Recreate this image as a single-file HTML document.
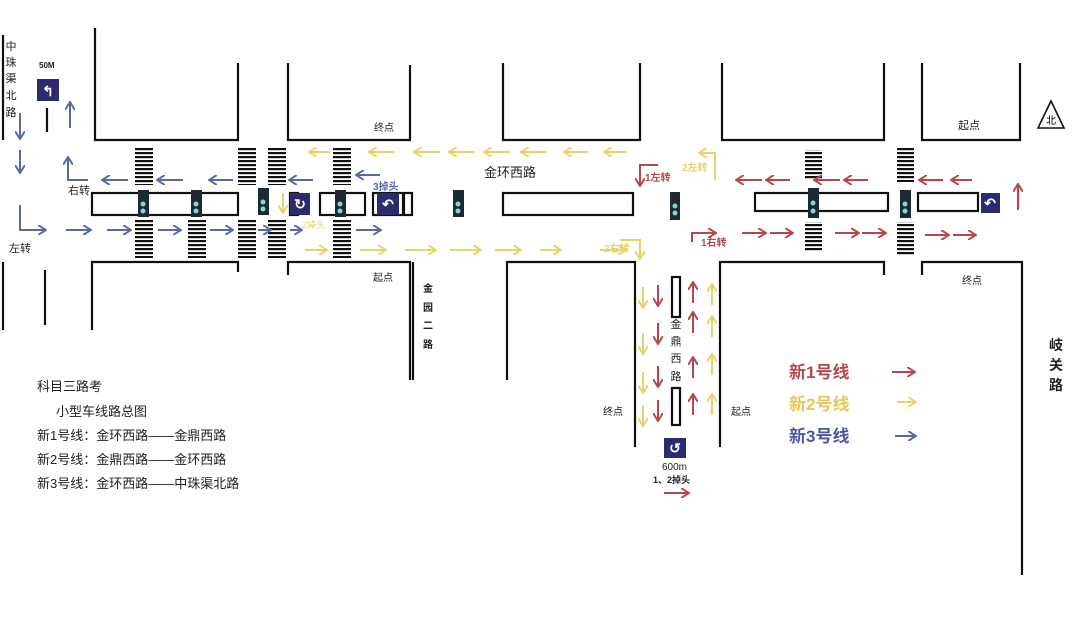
<!DOCTYPE html>
<html><head><meta charset="utf-8"><style>
html,body{margin:0;padding:0;background:#fff;}
svg{display:block;font-family:"Liberation Sans","Noto Sans CJK SC",sans-serif;}
</style></head><body>
<svg width="1080" height="624" viewBox="0 0 1080 624" xmlns="http://www.w3.org/2000/svg">
<defs>
<marker id="r" markerWidth="9" markerHeight="10" refX="7" refY="5" orient="auto" markerUnits="userSpaceOnUse"><path d="M0,0 L8,5 L0,10" fill="none" stroke="#b4474c" stroke-width="2"/></marker>
<marker id="y" markerWidth="9" markerHeight="10" refX="7" refY="5" orient="auto" markerUnits="userSpaceOnUse"><path d="M0,0 L8,5 L0,10" fill="none" stroke="#e6d36c" stroke-width="2"/></marker>
<marker id="b" markerWidth="9" markerHeight="10" refX="7" refY="5" orient="auto" markerUnits="userSpaceOnUse"><path d="M0,0 L8,5 L0,10" fill="none" stroke="#5b68a6" stroke-width="2"/></marker>
<pattern id="cw" width="20" height="4" patternUnits="userSpaceOnUse"><rect width="20" height="2.2" fill="#111"/></pattern>
</defs>
<g fill="none" stroke="#111" stroke-width="2.2">
<path d="M95,28 V140 H238 V63"/>
<path d="M288,63 V140 H410 V65"/>
<path d="M503,63 V140 H640 V63"/>
<path d="M722,63 V140 H884 V63"/>
<path d="M922,63 V140 H1020 V63"/>
<path d="M92,330 V262 H238 V272"/>
<path d="M288,275 V262 H410 V380"/>
<path d="M413,262 V380"/>
<path d="M507,380 V262 H635 V447"/>
<path d="M720,447 V262 H884 V275"/>
<path d="M922,275 V262 H1022 V575"/>
<path d="M3,35 V140"/><path d="M47,108 V132"/>
<path d="M3,262 V330"/><path d="M45,270 V325"/>
<rect x="92" y="193" width="146" height="22"/>
<rect x="320" y="193" width="45" height="22"/>
<rect x="373" y="193" width="30" height="22"/>
<rect x="404" y="193" width="8" height="22"/>
<rect x="290" y="193" width="8" height="22"/>
<rect x="503" y="193" width="130" height="22"/>
<rect x="755" y="193" width="133" height="18"/>
<rect x="918" y="193" width="60" height="18"/>
<rect x="672" y="277" width="8" height="40"/>
<rect x="672" y="388" width="8" height="37"/>
</g>
<g fill="url(#cw)">
<rect x="135" y="147" width="18" height="38"/><rect x="135" y="220" width="18" height="38"/>
<rect x="188" y="220" width="18" height="38"/>
<rect x="238" y="147" width="18" height="38"/><rect x="238" y="220" width="18" height="38"/>
<rect x="268" y="147" width="18" height="38"/><rect x="268" y="220" width="18" height="38"/>
<rect x="333" y="147" width="18" height="38"/><rect x="333" y="220" width="18" height="38"/>
<rect x="805" y="150" width="17" height="30"/><rect x="805" y="222" width="17" height="30"/>
<rect x="897" y="148" width="17" height="34"/><rect x="897" y="222" width="17" height="34"/>
</g>
<g>
<rect x="138" y="190" width="11" height="27" fill="#1c2a33"/><rect x="191" y="190" width="11" height="27" fill="#1c2a33"/>
<rect x="258" y="188" width="11" height="27" fill="#1c2a33"/><rect x="335" y="190" width="11" height="27" fill="#1c2a33"/>
<rect x="453" y="190" width="11" height="27" fill="#1c2a33"/><rect x="670" y="192" width="10" height="28" fill="#1c2a33"/>
<rect x="808" y="188" width="11" height="30" fill="#1c2a33"/><rect x="900" y="190" width="11" height="28" fill="#1c2a33"/>
</g>
<g fill="#8fd0d0">
<circle cx="143" cy="204" r="2.5"/><circle cx="143" cy="211" r="2.5"/><circle cx="196" cy="204" r="2.5"/><circle cx="196" cy="211" r="2.5"/>
<circle cx="263" cy="202" r="2.5"/><circle cx="263" cy="209" r="2.5"/><circle cx="340" cy="204" r="2.5"/><circle cx="340" cy="211" r="2.5"/>
<circle cx="458" cy="204" r="2.5"/><circle cx="458" cy="211" r="2.5"/><circle cx="675" cy="206" r="2.5"/><circle cx="675" cy="213" r="2.5"/>
<circle cx="813" cy="203" r="2.5"/><circle cx="813" cy="211" r="2.5"/><circle cx="905" cy="204" r="2.5"/><circle cx="905" cy="211" r="2.5"/>
</g>
<g fill="#2c2b6e">
<rect x="37" y="79" width="22" height="22"/><rect x="290" y="193" width="20" height="22"/><rect x="377" y="193" width="22" height="22"/>
<rect x="981" y="193" width="19" height="20"/><rect x="664" y="438" width="22" height="20"/>
</g>
<g fill="#fff" font-size="14" font-weight="bold" text-anchor="middle">
<text x="48" y="96">↰</text><text x="300" y="209">↻</text><text x="388" y="209">↶</text><text x="990" y="208">↶</text><text x="675" y="453">↺</text>
</g>
<g fill="none" stroke="#5b68a6" stroke-width="2" marker-end="url(#b)">
<path d="M20,113 V138"/><path d="M20,150 V172"/><path d="M70,128 V103"/>
<path d="M20,205 V230 H45"/><path d="M66,230 H90"/><path d="M107,230 H130"/><path d="M158,230 H180"/><path d="M210,230 H232"/>
<path d="M258,230 H270"/><path d="M290,230 H301"/><path d="M356,230 H380"/>
<path d="M88,180 H68 V158"/><path d="M128,180 H103"/><path d="M183,180 H158"/><path d="M233,180 H210"/><path d="M313,180 H290"/><path d="M380,175 H357"/>
</g>
<g fill="none" stroke="#e6d36c" stroke-width="2" marker-end="url(#y)">
<path d="M330,152 H310"/><path d="M395,152 H370"/><path d="M440,152 H415"/><path d="M475,152 H450"/><path d="M510,152 H485"/><path d="M547,152 H522"/><path d="M588,152 H565"/><path d="M627,152 H605"/>
<path d="M715,180 V153 H700"/><path d="M283,193 V212"/>
<path d="M305,250 H326"/><path d="M360,250 H385"/><path d="M405,250 H435"/><path d="M450,250 H480"/><path d="M495,250 H520"/><path d="M540,250 H560"/><path d="M600,250 H625"/><path d="M620,240 H640 V258"/>
<path d="M643,287 V307"/><path d="M643,333 V353"/><path d="M643,372 V392"/><path d="M643,405 V425"/>
<path d="M712,305 V285"/><path d="M712,337 V317"/><path d="M712,375 V355"/><path d="M712,415 V395"/>
<path d="M897,402 H915"/>
</g>
<g fill="none" stroke="#b4474c" stroke-width="2" marker-end="url(#r)">
<path d="M658,165 H640 V185"/><path d="M762,180 H737"/><path d="M790,180 H767"/><path d="M840,180 H815"/><path d="M868,180 H845"/><path d="M943,180 H920"/><path d="M972,180 H952"/>
<path d="M1018,210 V185"/>
<path d="M692,242 V233 H715"/><path d="M742,233 H765"/><path d="M770,233 H792"/><path d="M835,233 H858"/><path d="M862,233 H885"/><path d="M925,235 H948"/><path d="M953,235 H975"/>
<path d="M658,285 V305"/><path d="M658,323 V343"/><path d="M658,366 V386"/><path d="M658,400 V420"/>
<path d="M693,303 V283"/><path d="M693,333 V313"/><path d="M693,378 V358"/><path d="M693,415 V395"/>
<path d="M664,493 H688"/><path d="M892,372 H914"/>
</g>
<g fill="none" stroke="#5b68a6" stroke-width="2" marker-end="url(#b)"><path d="M895,436 H915"/></g>
<path d="M1038,128 L1051,101 L1064,128 Z" fill="none" stroke="#111" stroke-width="1.6"/>
<text x="1051" y="124" font-size="10" text-anchor="middle">北</text>
<g font-size="11" fill="#222">
<text x="11" y="50" text-anchor="middle">中</text><text x="11" y="66" text-anchor="middle">珠</text><text x="11" y="82" text-anchor="middle">渠</text><text x="11" y="99" text-anchor="middle">北</text><text x="11" y="116" text-anchor="middle">路</text>
<text x="39" y="68" font-size="8" font-weight="bold">50M</text>
<text x="68" y="194">右转</text><text x="9" y="252">左转</text>
<text x="374" y="131" font-size="10">终点</text><text x="373" y="281" font-size="10">起点</text>
<text x="484" y="177" font-size="13">金环西路</text>
<text x="958" y="129" font-size="11">起点</text><text x="962" y="284" font-size="10">终点</text>
<text x="603" y="415" font-size="10">终点</text><text x="731" y="415" font-size="10">起点</text>
<g font-size="10" font-weight="bold" text-anchor="middle"><text x="428" y="292">金</text><text x="428" y="311">园</text><text x="428" y="329">二</text><text x="428" y="348">路</text></g>
<g font-size="11" text-anchor="middle"><text x="676" y="328">金</text><text x="676" y="345">鼎</text><text x="676" y="362">西</text><text x="676" y="380">路</text></g>
<g font-size="14" font-weight="bold" text-anchor="middle"><text x="1056" y="350">岐</text><text x="1056" y="370">关</text><text x="1056" y="390">路</text></g>
<text x="662" y="470" font-size="10">600m</text>
<text x="653" y="483" font-size="9" font-weight="bold">1、2掉头</text>
<text x="373" y="190" font-size="10" font-weight="bold" fill="#5b68a6">3掉头</text>
<text x="302" y="228" font-size="9" fill="#e6d36c">2掉头</text>
<text x="645" y="181" font-size="10" fill="#b4474c" font-weight="bold">1左转</text>
<text x="682" y="171" font-size="10" fill="#e6d36c" font-weight="bold">2左转</text>
<text x="701" y="246" font-size="10" fill="#b4474c" font-weight="bold">1右转</text>
<text x="604" y="252" font-size="10" fill="#e6d36c" font-weight="bold">2右转</text>
<g font-size="13"><text x="37" y="391">科目三路考</text><text x="56" y="416">小型车线路总图</text>
<text x="37" y="440">新1号线：金环西路——金鼎西路</text><text x="37" y="464">新2号线：金鼎西路——金环西路</text><text x="37" y="488">新3号线：金环西路——中珠渠北路</text></g>
<g font-size="17" font-weight="bold"><text x="789" y="378" fill="#b4474c">新1号线</text><text x="789" y="410" fill="#e6c85a">新2号线</text><text x="789" y="442" fill="#4b58a0">新3号线</text></g>
</g>
</svg>
</body></html>
